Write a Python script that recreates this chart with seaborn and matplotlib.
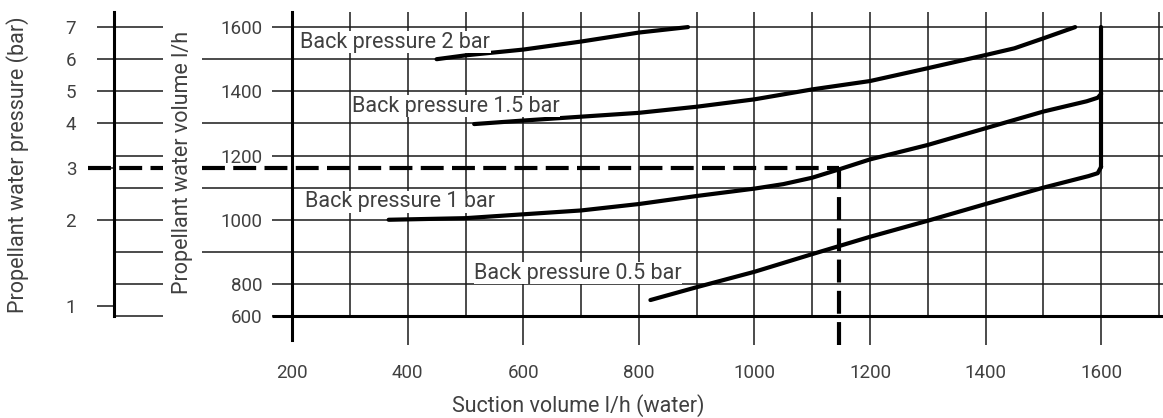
import numpy as np
import pandas as pd
import matplotlib
matplotlib.use("Agg")
import matplotlib.pyplot as plt
import seaborn as sns

# curves (suction l/h -> propellant water volume l/h)
suction_2bar = [450, 500, 600, 700, 800, 885]
volume_2bar = [1500, 1512, 1530, 1555, 1583, 1600]

suction_15bar = [515, 600, 700, 800, 900, 1000, 1100, 1200, 1300, 1400, 1450, 1500, 1555]
volume_15bar = [1298, 1309, 1321, 1333, 1352, 1375, 1406, 1432, 1472, 1513, 1534, 1565, 1600]

suction_1bar = [367, 500, 600, 700, 800, 900, 1000, 1050, 1100, 1150, 1200, 1300, 1400, 1500,
                1575, 1594, 1600]
volume_1bar = [1000, 1005, 1017, 1029, 1049, 1074, 1097, 1111, 1131, 1159, 1188, 1233, 1285, 1337,
               1369, 1380, 1392]

suction_05bar = [820, 900, 1000, 1100, 1200, 1300, 1400, 1500, 1578, 1594, 1600]
volume_05bar = [700, 780, 838, 893, 947, 997, 1049, 1100, 1136, 1145, 1165]

# max suction limit line
suction_limit = [1600, 1600]
volume_limit = [1165, 1600]

curve_names = ["Back pressure 2 bar", "Back pressure 1.5 bar",
               "Back pressure 1 bar", "Back pressure 0.5 bar"]

# worked example: 3 bar -> 1160 l/h -> 1147 l/h suction
example_volume = 1160
example_suction = 1147

# pressure scale (bar) and where it sits on the volume scale
pressure_ticks = [1, 2, 3, 4, 5, 6, 7]
pressure_on_volume = [663, 1000, 1160, 1300, 1400, 1500, 1600]

volume_ticks = [600, 800, 1000, 1200, 1400, 1600]
volume_rows_minor = [900, 1100, 1300, 1500]
suction_ticks = [200, 400, 600, 800, 1000, 1200, 1400, 1600]
suction_rows_odd = [300, 500, 700, 900, 1100, 1300, 1500, 1700]

# layout
W, H = 1163, 418
TXT = "#404040"
FS = 13.5      # tick labels
FS_L = 15.5    # curve / axis labels
YLIM = (420, 1647)
XLIM = (44, 1707)
STUB_X = 165
GRID = "#1a1a1a"


def to_pos(v):
    v = np.asarray(v, dtype=float)
    return np.where(v < 800, 700 + (v - 600) / 2.0, v)


def from_pos(p):
    p = np.asarray(p, dtype=float)
    return np.where(p < 800, 600 + (p - 700) * 2.0, p)


def px_box(x0, x1, ytop, ybot):
    return [x0 / W, 1 - ybot / H, (x1 - x0) / W, (ybot - ytop) / H]


sns.set_theme(style="white")
plt.rcParams["font.family"] = ["Roboto", "DejaVu Sans"]

fig = plt.figure(figsize=(W / 100, H / 100), dpi=100)
ax = fig.add_axes(px_box(202, 1163, 12, 345))
axp = fig.add_axes(px_box(88, 163, 12, 345))

df = pd.concat([
    pd.DataFrame({"suction": s, "volume": v, "curve": n})
    for s, v, n in [(suction_2bar, volume_2bar, curve_names[0]),
                    (suction_15bar, volume_15bar, curve_names[1]),
                    (suction_1bar, volume_1bar, curve_names[2]),
                    (suction_05bar, volume_05bar, curve_names[3]),
                    (suction_limit, volume_limit, "limit")]
])
sns.lineplot(data=df, x="suction", y="volume", units="curve", estimator=None,
             sort=False, color="black", lw=3.0, ax=ax, zorder=5, legend=False)

for a in (ax, axp):
    a.set_yscale("function", functions=(to_pos, from_pos))
    a.set_ylim(*YLIM)
    a.patch.set_alpha(0)
    a.set_xlabel("")
    a.set_ylabel("")
    for s in ["top", "right", "bottom"]:
        a.spines[s].set_visible(False)

# ---- main panel grid
ax.set_xlim(*XLIM)
for x in suction_ticks[1:]:
    ax.axvline(x, color=GRID, lw=1.1, zorder=1)
ax.vlines(suction_rows_odd, 600, YLIM[1], color=GRID, lw=1.1, zorder=1)
for y in volume_rows_minor:
    ax.axhline(y, color=GRID, lw=1.1, zorder=1)
ax.hlines(volume_ticks[1:], 200, XLIM[1], color=GRID, lw=1.1, zorder=1)
ax.hlines(600, STUB_X, XLIM[1], color="black", lw=2.2, zorder=2, clip_on=False)

ax.spines["left"].set_position(("data", 200))
ax.spines["left"].set_bounds(451, YLIM[1])
ax.spines["left"].set_linewidth(2.2)
ax.spines["left"].set_color("black")

ax.set_yticks(volume_ticks)
ax.set_yticklabels([str(v) for v in volume_ticks])
ax.set_xticks(suction_ticks)
ax.set_xticklabels([str(v) for v in suction_ticks])
ax.tick_params(axis="y", direction="out", length=14.4, width=1.1, color=GRID,
               pad=7, labelsize=FS, labelcolor=TXT, left=True)
ax.tick_params(axis="x", length=0, pad=14, labelsize=FS, labelcolor=TXT)

# worked example dashes
dash = (0, (5.5, 2.0))
ax.hlines(example_volume, XLIM[0], example_suction, color="black", lw=3.0,
          linestyles=[dash], zorder=6)
ax.vlines(example_suction, YLIM[0], example_volume, color="black", lw=3.0,
          linestyles=[dash], zorder=6)

# curve labels
label_xy = [(214, 1553), (304, 1354), (222, 1056), (515, 833)]
for name, (lx, ly) in zip(curve_names, label_xy):
    ax.text(lx, ly, name, fontsize=FS_L, color=TXT, va="center", ha="left", zorder=7,
            bbox=dict(facecolor="white", edgecolor="none", pad=0.3))

# ---- pressure panel
axp.set_xlim(0, 1)
spx = 0.347
axp.spines["left"].set_position(("axes", spx))
axp.spines["left"].set_bounds(600, YLIM[1])
axp.spines["left"].set_linewidth(2.2)
axp.spines["left"].set_color("black")
for y in [600, 800] + volume_rows_minor + volume_ticks[2:]:
    axp.axhline(y, xmin=spx, color=GRID, lw=1.1, zorder=1)
axp.axhline(example_volume, color="black", lw=3.0, linestyle=dash, zorder=6)
axp.set_xticks([])
axp.set_yticks(pressure_on_volume)
axp.set_yticklabels([str(p) for p in pressure_ticks])
axp.tick_params(axis="y", direction="out", length=12.2, width=1.1, color=GRID,
                pad=15, labelsize=FS, labelcolor=TXT, left=True)

# axis titles
fig.text(18 / W, 1 - 165 / H, "Propellant water pressure (bar)", rotation=90,
         ha="center", va="center", fontsize=FS_L, color=TXT)
fig.text(182 / W, 1 - 162 / H, "Propellant water volume l/h", rotation=90,
         ha="center", va="center", fontsize=FS_L, color=TXT)
fig.text(578 / W, 1 / H, "Suction volume l/h (water)",
         ha="center", va="bottom", fontsize=FS_L, color=TXT)

plt.savefig("out.png", dpi=100)
plt.close()
